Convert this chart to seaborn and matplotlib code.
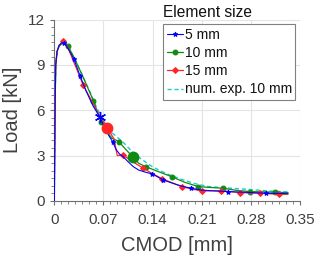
import matplotlib
matplotlib.use("Agg")
import matplotlib.pyplot as plt
import seaborn as sns
from matplotlib.ticker import MultipleLocator

sns.set_style("white")
plt.rcParams['font.family'] = ['Liberation Sans', 'DejaVu Sans']

# 5 mm
x5 = [0, 0.0005, 0.001, 0.002, 0.004, 0.007, 0.010, 0.0138, 0.018, 0.023, 0.028, 0.0366, 0.045, 0.055, 0.065,
      0.072, 0.078, 0.083, 0.088, 0.093, 0.098, 0.105, 0.1125, 0.12, 0.13, 0.1396, 0.155, 0.17, 0.18, 0.195,
      0.21, 0.23, 0.248, 0.27, 0.3016, 0.32, 0.333]
y5 = [0, 3.0, 6.0, 9.0, 9.9, 10.3, 10.45, 10.48, 10.2, 9.8, 9.38, 8.28, 7.3, 6.3, 5.54,
      4.8, 4.3, 3.93, 3.4, 3.1, 2.93, 2.6, 2.27, 2.05, 1.9, 1.79, 1.39, 1.15, 1.0, 0.84,
      0.72, 0.66, 0.62, 0.58, 0.51, 0.5, 0.48]
m5 = [7, 10, 11, 17, 25, 26, 29, 32, 34]
big5 = 14

# 10 mm
x10 = [0, 0.0005, 0.001, 0.002, 0.004, 0.007, 0.011, 0.014, 0.02, 0.03, 0.04, 0.0556, 0.0665, 0.075, 0.082,
       0.092, 0.1, 0.106, 0.1125, 0.12, 0.13, 0.145, 0.167, 0.185, 0.205, 0.22, 0.2407, 0.26, 0.279, 0.3,
       0.3144, 0.333]
y10 = [0, 3.0, 6.0, 9.0, 9.9, 10.25, 10.4, 10.45, 10.22, 9.3, 8.3, 6.64, 5.25, 4.6, 4.15,
       3.93, 3.5, 3.2, 2.93, 2.5, 2.27, 2.0, 1.61, 1.25, 0.95, 0.9, 0.84, 0.7, 0.62, 0.6,
       0.58, 0.55]
m10 = [8, 11, 12, 15, 20, 22, 24, 26, 28, 30]
big10 = 18

# 15 mm
x15 = [0, 0.0005, 0.001, 0.002, 0.004, 0.007, 0.0128, 0.018, 0.025, 0.033, 0.041, 0.05, 0.06, 0.068, 0.0755,
       0.08, 0.085, 0.0897, 0.098, 0.105, 0.115, 0.127, 0.14, 0.154, 0.168, 0.1815, 0.195, 0.21, 0.238,
       0.2645, 0.2933, 0.3205, 0.333]
y15 = [0, 3.0, 6.0, 9.0, 9.9, 10.3, 10.55, 10.3, 9.5, 8.6, 7.68, 6.9, 6.0, 5.3, 4.85,
       4.5, 4.1, 3.0, 3.05, 2.8, 2.5, 2.16, 1.8, 1.46, 1.2, 0.95, 0.8, 0.66, 0.68,
       0.55, 0.51, 0.44, 0.45]
m15 = [6, 10, 18, 21, 23, 25, 27, 28, 29, 30, 31]
big15 = 14

# num. exp. 10 mm
xn = [0, 0.0005, 0.001, 0.002, 0.004, 0.007, 0.012, 0.016, 0.02, 0.03, 0.04, 0.05, 0.06, 0.07, 0.08, 0.09,
      0.1, 0.11, 0.12, 0.14, 0.16, 0.18, 0.2, 0.22, 0.25, 0.28, 0.31, 0.333]
yn = [0, 3.0, 6.0, 9.0, 9.9, 10.3, 10.4, 10.4, 10.2, 9.3, 8.3, 7.3, 6.2, 5.3, 4.6, 4.2,
      3.8, 3.3, 2.9, 2.25, 1.8, 1.45, 1.15, 0.95, 0.85, 0.75, 0.65, 0.6]

xticks = [0, 0.07, 0.14, 0.21, 0.28, 0.35]
xtick_labels = ["0", "0.07", "0.14", "0.21", "0.28", "0.35"]
yticks = [0, 3, 6, 9, 12]

c_blue = "#0000ff"
c_green = "#118a11"
c_red = "#ff2626"
c_cyan = "#1ccccc"
txt = "#404040"

fig = plt.figure(figsize=(3.32, 2.57), dpi=100)
ax = fig.add_axes([0.1636, 0.218, 0.74, 0.706])

sns.lineplot(x=xn, y=yn, ax=ax, color=c_cyan, lw=1.0, linestyle=(0, (3, 2)), sort=False,
             estimator=None, label="num. exp. 10 mm", zorder=3)
sns.lineplot(x=x10, y=y10, ax=ax, color=c_green, lw=0.9, marker="o", ms=3.5, markevery=m10,
             mec=c_green, sort=False, estimator=None, label="10 mm", zorder=4)
sns.lineplot(x=x15, y=y15, ax=ax, color=c_red, lw=0.9, marker="D", ms=3, markevery=m15,
             mec=c_red, sort=False, estimator=None, label="15 mm", zorder=5)
sns.lineplot(x=x5, y=y5, ax=ax, color=c_blue, lw=0.8, marker="*", ms=3.5, markevery=m5,
             mec=c_blue, sort=False, estimator=None, label="5 mm", zorder=6)

ax.plot([x5[big5]], [y5[big5]], marker=(6, 2, 0), ms=8, color=c_blue, mew=1.0, zorder=7, linestyle="none")
ax.plot([x15[big15]], [y15[big15]], marker="o", ms=7.5, color=c_red, zorder=7, linestyle="none")
ax.plot([x10[big10]], [y10[big10]], marker="o", ms=7.5, color=c_green, zorder=7, linestyle="none")

ax.set_xlim(0, 0.35)
ax.set_ylim(0, 12)
ax.set_xticks(xticks)
ax.set_xticklabels(xtick_labels)
ax.set_yticks(yticks)
ax.xaxis.set_minor_locator(MultipleLocator(0.01))
ax.yaxis.set_minor_locator(MultipleLocator(0.5))
ax.grid(True, which="major", color="#e4e4e4", lw=0.8)
ax.set_axisbelow(True)
for s in ["top", "right"]:
    ax.spines[s].set_visible(False)
for s in ["left", "bottom"]:
    ax.spines[s].set_color("#707070")
    ax.spines[s].set_linewidth(0.8)
ax.tick_params(which="major", direction="out", length=3, width=0.8, color="#707070",
               labelsize=11, labelcolor=txt, pad=4, bottom=True, left=True)
ax.tick_params(axis="x", which="major", pad=6)
ax.tick_params(which="minor", direction="out", length=2, width=0.6, color="#707070",
               bottom=True, left=True)
ax.set_xlabel("CMOD [mm]", fontsize=14.5, color=txt, labelpad=6)
ax.set_ylabel("Load [kN]", fontsize=14.5, color=txt, labelpad=4)

h, l = ax.get_legend_handles_labels()
order = ["5 mm", "10 mm", "15 mm", "num. exp. 10 mm"]
hh = [h[l.index(o)] for o in order]
leg = ax.legend(hh, order, loc="upper left", bbox_to_anchor=(0.443, 0.973), frameon=True, fancybox=False,
                fontsize=10, handlelength=1.15, handletextpad=0.15, borderpad=0.25, labelspacing=0.3,
                borderaxespad=0, framealpha=1)
leg.get_frame().set_edgecolor("#808080")
leg.get_frame().set_linewidth(0.8)
for t in leg.get_texts():
    t.set_color("#111111")
fig.text(163 / 332, 1 - 12 / 257, "Element size", fontsize=11.2, color="#111111", ha="left", va="center")

fig.savefig("out.png", dpi=100)
